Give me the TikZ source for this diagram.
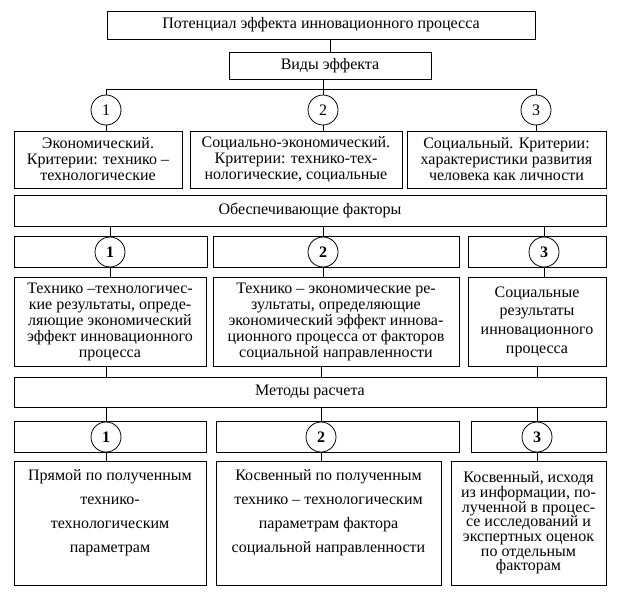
\documentclass[tikz,border=0pt]{standalone}
\usepackage{fontspec}
\setmainfont{Liberation Serif}

\begin{document}
\begin{tikzpicture}[x=0.75pt, y=-0.75pt, line width=0.6pt,
    every node/.style={font=\fontsize{12}{12}\selectfont},
    box/.style={draw, rectangle, align=center, inner sep=0pt},
    bw/.style={minimum width=#1*0.75pt},
    bh/.style={minimum height=#1*0.75pt},
    num/.style={draw, circle, fill=white, minimum size=30*0.75pt, inner sep=0pt},
    numb/.style={num, font=\fontsize{12}{12}\selectfont\bfseries}]

    \useasboundingbox (0,0) rectangle (625,592);

    % potential and kinds of effect
        \node[box, bw=428, bh=28] (pot) at (321,25) {Потенциал эффекта инновационного процесса};
        \node[box, bw=202, bh=27] (vid) at (330,65.5) {Виды эффекта};
        \draw (vid.north) -- (vid.north |- pot.south);

    % numbered kinds
        \coordinate (vbar) at (323,89);
        \node[num] (v1) at (106,110) {1};
        \node[num] (v2) at (323,110) {2};
        \node[num] (v3) at (536,110) {3};
        \draw (v1.north) -- (v1 |- vbar) -- (v3 |- vbar) -- (v3.north);
        \draw (vid.south -| v2) -- (v2.north);

        \node[box, bw=168, bh=57] (e1) at (98,159.5) {Экономический.\\ Критерии: технико –\\ технологические};
        \node[box, bw=212, bh=57] (e2) at (296,159.5) {Социально-экономический.\\ Критерии: технико-тех-\\ нологические, социальные};
        \node[box, bw=199, bh=57] (e3) at (506.5,159.5) {Социальный. Критерии:\\ характеристики развития\\ человека как личности};
        \draw (v1.south) -- (v1 |- e1.north);
        \draw (v2.south) -- (v2 |- e2.north);
        \draw (v3.south) -- (v3 |- e3.north);

    % providing factors
        \node[box, bw=592, bh=31] (fac) at (310,210.5) {Обеспечивающие факторы};
        \node[box, bw=193, bh=31] (fs1) at (110.5,251.5) {};
        \node[box, bw=246, bh=31] (fs2) at (336,251.5) {};
        \node[box, bw=138, bh=31] (fs3) at (537,251.5) {};
        \node[numb] (f1) at (110,252) {1};
        \node[numb] (f2) at (323,252) {2};
        \node[numb] (f3) at (544,252) {3};
        \draw (fac.south -| f1) -- (f1.north);
        \draw (fac.south -| f2) -- (f2.north);
        \draw (fac.south -| f3) -- (f3.north);

        \node[box, bw=192, bh=89] (r1) at (110,321.5) {Технико –технологичес-\\ кие результаты, опреде-\\ ляющие экономический\\ эффект инновационного\\ процесса};
        \node[box, bw=246, bh=89] (r2) at (336,321.5) {Технико – экономические ре-\\ зультаты, определяющие\\ экономический эффект иннова-\\ ционного процесса от факторов\\ социальной направленности};
        \node[box, bw=138, bh=89] (r3) at (537,321.5) {Социальные\\[2pt] результаты\\[2pt] инновационного\\[2pt] процесса};
        \draw (f1.south) -- (f1 |- r1.north);
        \draw (f2.south) -- (f2 |- r2.north);
        \draw (f3.south) -- (f3 |- r3.north);

    % calculation methods
        \node[box, bw=592, bh=30] (met) at (310,392) {Методы расчета};
        \node[box, bw=192, bh=31] (ms1) at (110,436.5) {};
        \node[box, bw=243, bh=31] (ms2) at (337.5,436.5) {};
        \node[box, bw=135, bh=31] (ms3) at (538.5,436.5) {};
        \node[numb] (m1) at (106,437) {1};
        \node[numb] (m2) at (321,437) {2};
        \node[numb] (m3) at (537,437) {3};
        \draw (m1 |- r1.south) -- (m1 |- met.north);
        \draw (m2 |- r2.south) -- (m2 |- met.north);
        \draw (m3 |- r3.south) -- (m3 |- met.north);
        \draw (met.south -| m1) -- (m1.north);
        \draw (met.south -| m2) -- (m2.north);
        \draw (met.south -| m3) -- (m3.north);

        \node[box, bw=192, bh=124] (q1) at (110,523) {Прямой по полученным\\[6pt] технико-\\[6pt] технологическим\\[6pt] параметрам\\[6pt] \mbox{}};
        \node[box, bw=225, bh=124] (q2) at (328.5,523) {Косвенный по полученным\\[6pt] технико – технологическим\\[6pt] параметрам фактора\\[6pt] социальной направленности\\[6pt] \mbox{}};
        \node[box, bw=155, bh=124, font=\fontsize{12}{11}\selectfont] (q3) at (528.5,523) {Косвенный, исходя\\ из информации, по-\\ лученной в процес-\\ се исследований и\\ экспертных оценок\\ по отдельным\\ факторам};
        \draw (m1.south) -- (m1 |- q1.north);
        \draw (m2.south) -- (m2 |- q2.north);
        \draw (m3.south) -- (m3 |- q3.north);

\end{tikzpicture}
\end{document}
